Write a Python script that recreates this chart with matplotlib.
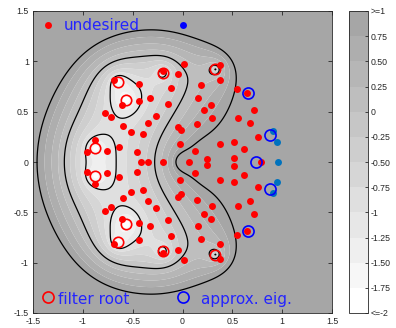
import numpy as np
import matplotlib
matplotlib.use('Agg')
import matplotlib.pyplot as plt
from matplotlib.colors import ListedColormap, BoundaryNorm
from matplotlib.cm import ScalarMappable

# ---- data ----
# filter roots (red open circles)
roots_x = [-0.644, -0.644, -0.567, -0.567, -0.197, -0.197, -0.873, -0.873, 0.330, 0.330]
roots_y = [0.796, -0.796, 0.617, -0.617, 0.886, -0.886, 0.138, -0.138, 0.920, -0.920]

# approximate eigenvalues (blue open circles)
approx_x = [0.660, 0.660, 0.873, 0.873, 0.740]
approx_y = [0.683, -0.683, 0.270, -0.270, 0.000]

# desired eigenvalues (blue dots)
desired_x = [0.913, 0.913, 0.950, 0.950, 0.956]
desired_y = [0.311, -0.311, 0.199, -0.199, 0.000]

# undesired eigenvalues (red dots)
undesired_x = [
    0.017, -0.050, -0.687, -0.437, -0.200, -0.120, -0.324, -0.437, -0.147, -0.604,
    -0.780, -0.720, -0.267, -0.344, -0.594, -0.520, -0.394, -0.043, -0.020, -0.023,
    -0.882, -0.638, -0.757, -0.954, -0.460, 0.380, 0.373, 0.190, 0.543, 0.650,
    0.160, 0.290, 0.220, 0.713, 0.298, 0.560, 0.673, 0.150, 0.755, 0.380,
    0.520, 0.616, 0.128, 0.250, 0.520,
    0.017, -0.050, -0.687, -0.437, -0.200, -0.120, -0.324, -0.437, -0.147, -0.604,
    -0.780, -0.720, -0.267, -0.344, -0.594, -0.520, -0.394, -0.043, -0.020, -0.023,
    -0.882, -0.638, -0.757, -0.954, -0.460, 0.380, 0.373, 0.190, 0.543, 0.650,
    0.160, 0.290, 0.220, 0.713, 0.298, 0.560, 0.673, 0.150, 0.755, 0.380,
    0.520, 0.616, 0.128, 0.250, 0.520,
    -0.414, -0.347, -0.200, 0.062, 0.790]
undesired_y = [
    0.975, 0.872, 0.810, 0.776, 0.905, 0.731, 0.637, 0.607, 0.577, 0.567,
    0.485, 0.450, 0.454, 0.391, 0.356, 0.301, 0.277, 0.344, 0.318, 0.175,
    0.220, 0.152, 0.106, 0.104, 0.098, 0.960, 0.817, 0.762, 0.722, 0.690,
    0.640, 0.563, 0.517, 0.515, 0.433, 0.440, 0.391, 0.375, 0.245, 0.175,
    0.195, 0.129, 0.108, 0.034, 0.038,
    -0.975, -0.872, -0.810, -0.776, -0.905, -0.731, -0.637, -0.607, -0.577, -0.567,
    -0.485, -0.450, -0.454, -0.391, -0.356, -0.301, -0.277, -0.344, -0.318, -0.175,
    -0.220, -0.152, -0.106, -0.104, -0.098, -0.960, -0.817, -0.762, -0.722, -0.690,
    -0.640, -0.563, -0.517, -0.515, -0.433, -0.440, -0.391, -0.375, -0.245, -0.175,
    -0.195, -0.129, -0.108, -0.034, -0.038,
    0.000, 0.000, 0.000, 0.000, 0.000]

# filter model (log10 |f|): roots above, plus poles/zero estimated from the contour shapes
pole_x = [0.00, 0.25, 0.25]
pole_y = [0.00, 0.10, -0.10]
pole_weight = [0.85, 0.26, 0.26]
extra_zero = 2.0
filter_offset = -0.205

# colour levels and black contour levels
band_bounds = [-2.0, -1.75, -1.5, -1.25, -1.0, -0.75, -0.5, -0.25, 0.0, 0.25, 0.5, 0.75, 1.0]
cbar_labels = ['<=-2', '-1.75', '-1.50', '-1.25', '-1', '-0.75', '-0.50', '-0.25',
               '0', '0.25', '0.50', '0.75', '>=1']
line_levels = [-1.0, 0.0, 1.0]

ticks = [-1.5, -1.0, -0.5, 0.0, 0.5, 1.0, 1.5]
tick_labels = ['-1.5', '-1', '-0.5', '0', '0.5', '1', '1.5']

# ---- figure ----
W, H = 396, 328
fig = plt.figure(figsize=(W / 100, H / 100), dpi=100)
ax = fig.add_axes([33 / W, 15 / H, 299 / W, 302 / H])

g = np.linspace(-1.5, 1.5, 700)
X, Y = np.meshgrid(g, g)
Zc = X + 1j * Y
rts = np.array(roots_x) + 1j * np.array(roots_y)
pls = np.array(pole_x) + 1j * np.array(pole_y)
with np.errstate(divide='ignore', invalid='ignore'):
    V = np.zeros_like(X)
    for r in rts:
        V += np.log10(np.abs(Zc - r))
    for p, wgt in zip(pls, pole_weight):
        V += wgt * (np.log10(np.abs(Zc - extra_zero)) - np.log10(np.abs(Zc - p)))
    V += filter_offset
V = np.nan_to_num(V, nan=5.0, posinf=5.0, neginf=-5.0)
V = np.clip(V, -5, 5)

nb = len(band_bounds) - 1
greys = np.linspace(1.0, 0.65, nb)
colors = [(v, v, v) for v in greys]
fill_levels = [-10.0] + band_bounds[1:-1] + [10.0]
ax.contourf(X, Y, V, levels=fill_levels, colors=colors, antialiased=True)
ax.contour(X, Y, V, levels=line_levels, colors='k', linewidths=0.9, linestyles='solid')

ax.plot(undesired_x, undesired_y, 'o', color='red', ms=5, mec='none', zorder=3)
ax.plot(desired_x, desired_y, 'o', color='#0072BD', ms=5, mec='none', zorder=3)
ax.plot(roots_x, roots_y, 'o', mfc='none', mec='red', ms=7.5, mew=1.2, zorder=4)
ax.plot(approx_x, approx_y, 'o', mfc='none', mec='blue', ms=8, mew=1.2, zorder=4)

# legend-like annotations (axes coordinates)
tcol = '#2424ff'
ax.plot([0.049], [0.952], 'o', color='red', ms=5, mec='none', transform=ax.transAxes)
ax.text(0.102, 0.936, 'undesired', color=tcol, fontsize=11, transform=ax.transAxes,
        ha='left', va='baseline', family='DejaVu Sans')
ax.plot([0.502], [0.952], 'o', color='blue', ms=5, mec='none', transform=ax.transAxes)
ax.plot([0.050], [0.054], 'o', mfc='none', mec='red', ms=8, mew=1.2, transform=ax.transAxes)
ax.text(0.085, 0.031, 'filter root', color=tcol, fontsize=11, transform=ax.transAxes,
        ha='left', va='baseline', family='DejaVu Sans')
ax.plot([0.502], [0.054], 'o', mfc='none', mec='blue', ms=8, mew=1.2, transform=ax.transAxes)
ax.text(0.563, 0.031, 'approx. eig.', color=tcol, fontsize=11, transform=ax.transAxes,
        ha='left', va='baseline', family='DejaVu Sans')

ax.set_xlim(-1.5, 1.5)
ax.set_ylim(-1.5, 1.5)
ax.set_xticks(ticks)
ax.set_xticklabels(tick_labels)
ax.set_yticks(ticks)
ax.set_yticklabels(tick_labels)
axcol = '#262626'
ax.tick_params(direction='in', length=3, width=0.6, top=True, right=True,
               labelsize=6.3, colors=axcol, pad=3)
for lab in ax.get_xticklabels() + ax.get_yticklabels():
    lab.set_family('Liberation Sans')
for s in ax.spines.values():
    s.set_color(axcol)
    s.set_linewidth(0.6)

# colorbar
cax = fig.add_axes([349 / W, 15 / H, 19 / W, 302 / H])
sm = ScalarMappable(norm=BoundaryNorm(band_bounds, nb), cmap=ListedColormap(colors))
cb = fig.colorbar(sm, cax=cax, ticks=band_bounds)
cb.set_ticklabels(cbar_labels)
cax.tick_params(direction='in', length=2.5, width=0.6, labelsize=6.3, colors=axcol, pad=2)
for lab in cax.get_yticklabels():
    lab.set_family('Liberation Sans')
cb.outline.set_edgecolor(axcol)
cb.outline.set_linewidth(0.6)

fig.savefig('out.png', dpi=100)
